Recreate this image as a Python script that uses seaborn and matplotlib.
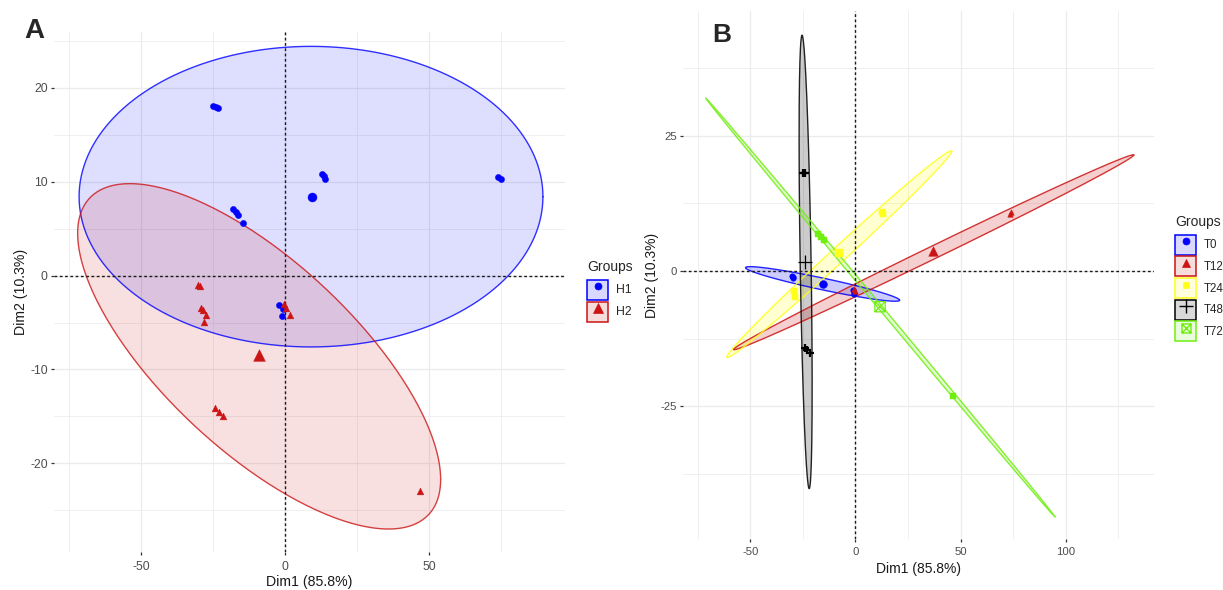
import numpy as np
import pandas as pd
import matplotlib
matplotlib.use("Agg")
import matplotlib.pyplot as plt
from matplotlib.path import Path
from matplotlib.markers import MarkerStyle
from matplotlib.patches import Rectangle
from matplotlib.lines import Line2D
from matplotlib.colors import to_rgba
import seaborn as sns

# ---------------- Panel A: individuals coloured by H1 / H2 ----------------
h1_dim1 = [-25.0, -24.1, -23.3, -18.0, -17.2, -16.4, -14.7, 12.8, 13.4, 13.9,
           74.0, 75.0, -2.0, -0.7, -0.9]
h1_dim2 = [18.0, 17.9, 17.8, 7.1, 6.8, 6.4, 5.6, 10.8, 10.6, 10.3,
           10.5, 10.3, -3.1, -3.6, -4.3]
h2_dim1 = [-30.3, -29.5, -29.3, -28.4, -27.3, -28.0, -24.3, -23.0, -21.6,
           46.8, -0.5, 0.4, 1.7]
h2_dim2 = [-1.0, -1.1, -3.5, -3.7, -4.2, -4.9, -14.1, -14.5, -14.9,
           -22.9, -3.0, -3.5, -4.2]

a_groups = ["H1", "H2"]
a_mean_dim1 = [9.3, -9.0]
a_mean_dim2 = [8.4, -8.5]
# confidence ellipses: centre, one half-axis vector and its conjugate half-axis
a_ell_cx = [9.0, -9.0]
a_ell_cy = [8.4, -8.6]
a_ell_ux = [80.5, 63.0]
a_ell_uy = [0.0, -13.1]
a_ell_vx = [0.0, 0.0]
a_ell_vy = [16.0, 12.9]

# ---------------- Panel B: individuals coloured by time point ----------------
t0_dim1 = [-30.2, -29.9, -29.6, -1.0, -0.8, -0.6]
t0_dim2 = [-1.0, -1.1, -1.3, -3.5, -4.0, -4.3]
t12_dim1 = [73.5, 74.2, -0.8, -0.3]
t12_dim2 = [10.5, 10.8, -3.3, -3.7]
t24_dim1 = [12.6, 13.2, -29.2, -28.8]
t24_dim2 = [10.8, 10.5, -3.7, -4.9]
t48_dim1 = [-24.8, -24.0, -23.9, -23.2, -21.6]
t48_dim2 = [18.0, 18.1, -14.3, -14.6, -15.1]
t72_dim1 = [-17.6, -16.3, -15.0, 46.6]
t72_dim2 = [6.8, 6.3, 5.7, -23.0]

b_groups = ["T0", "T12", "T24", "T48", "T72"]
b_mean_dim1 = [-15.4, 37.0, -7.8, -23.9, 11.7]
b_mean_dim2 = [-2.4, 3.6, 3.3, 1.6, -6.6]
b_ell_cx = [-15.65, 37.2, -7.7, -23.7, 11.85]
b_ell_cy = [-2.4, 3.45, 3.1, 1.65, -6.75]
b_ell_ux = [36.65, 95.2, 53.5, -1.7, 83.05]
b_ell_uy = [-3.0, 17.95, 19.0, 41.85, -38.65]
b_ell_vx = [0.0, 0.0, 0.0, 2.6, 0.0]
b_ell_vy = [1.1, 1.3, 1.9, 0.0, 0.6]

x_label = "Dim1 (85.8%)"
y_label = "Dim2 (10.3%)"
legend_title = "Groups"

# ---------------- styling ----------------
sns.set_theme(style="white")
plt.rcParams["font.family"] = ["Liberation Sans", "DejaVu Sans"]

BLUE = "#0000FF"
RED = "#CC1414"
YELLOW = "#FFFF1A"
BLACK = "#000000"
GREEN = "#70EE10"

box_x = Path(
    [(-1, -1), (1, -1), (1, 1), (-1, 1), (-1, -1),
     (-1, -1), (1, 1), (-1, 1), (1, -1)],
    [Path.MOVETO, Path.LINETO, Path.LINETO, Path.LINETO, Path.CLOSEPOLY,
     Path.MOVETO, Path.LINETO, Path.MOVETO, Path.LINETO])
BOX_X = MarkerStyle(box_x, fillstyle="none")


def frame(names, xs_list, ys_list):
    parts = []
    for n, xs, ys in zip(names, xs_list, ys_list):
        parts.append(pd.DataFrame({"Dim1": xs, "Dim2": ys, "Groups": n}))
    return pd.concat(parts, ignore_index=True)


df_a = frame(a_groups, [h1_dim1, h2_dim1], [h1_dim2, h2_dim2])
df_b = frame(b_groups,
             [t0_dim1, t12_dim1, t24_dim1, t48_dim1, t72_dim1],
             [t0_dim2, t12_dim2, t24_dim2, t48_dim2, t72_dim2])
means_a = pd.DataFrame({"Dim1": a_mean_dim1, "Dim2": a_mean_dim2, "Groups": a_groups})
means_b = pd.DataFrame({"Dim1": b_mean_dim1, "Dim2": b_mean_dim2, "Groups": b_groups})


def ellipse(cx, cy, ux, uy, vx, vy, n=361):
    t = np.linspace(0, 2 * np.pi, n)
    return (cx + ux * np.cos(t) + vx * np.sin(t),
            cy + uy * np.cos(t) + vy * np.sin(t))


def style_axes(ax, xlim, ylim, xmaj, xmin, ymaj, ymin, xpad, ypad, tick_fs):
    ax.set_xlim(xlim)
    ax.set_ylim(ylim)
    ax.set_xticks(xmaj)
    ax.set_xticks(xmin, minor=True)
    ax.set_yticks(ymaj)
    ax.set_yticks(ymin, minor=True)
    ax.set_xticklabels([f"{v:g}" for v in xmaj])
    ax.set_yticklabels([f"{v:g}" for v in ymaj])
    ax.grid(True, which="major", color="#EBEBEB", lw=0.9)
    ax.grid(True, which="minor", color="#EFEFEF", lw=0.7)
    ax.set_axisbelow(True)
    for s in ax.spines.values():
        s.set_visible(False)
    ax.tick_params(which="major", direction="out", length=2.2, width=0.9,
                   color="#333333", labelsize=tick_fs, labelcolor="#4D4D4D",
                   bottom=True, left=True)
    ax.tick_params(axis="x", pad=xpad)
    ax.tick_params(axis="y", pad=ypad)
    ax.tick_params(which="minor", length=0, bottom=False, left=False)
    ax.axhline(0, color="#1A1A1A", lw=1.0, ls=(0, (2.0, 1.8)), zorder=2.6)
    ax.axvline(0, color="#1A1A1A", lw=1.0, ls=(0, (2.0, 1.8)), zorder=2.6)


def is_filled(mk):
    return (mk if isinstance(mk, MarkerStyle) else MarkerStyle(mk)).is_filled()


def draw_points(ax, df, groups, colors, markers, sizes, line_widths):
    for g in groups:
        sub = df[df["Groups"] == g]
        mk = markers[g]
        kws = dict(x=sub["Dim1"], y=sub["Dim2"], ax=ax, color=colors[g],
                   marker=mk, s=sizes[g], legend=False, zorder=4)
        if is_filled(mk):
            kws.update(edgecolor=colors[g], linewidth=0.3)
        else:
            kws.update(linewidth=line_widths[g])
        sns.scatterplot(**kws)


def add_legend(ax, groups, colors, markers, msizes, anchor, fill_alpha,
               fs, key_px, row_px):
    fs_px = fs * 100 / 72
    # legend handle box height = fs * (0.65 * handleheight + 0.245)
    hh = (key_px / fs_px - 0.245) / 0.65
    handles = []
    for g in groups:
        box = Rectangle((0, 0), 1, 1, facecolor=to_rgba(colors[g], fill_alpha),
                        edgecolor=colors[g], lw=1.1)
        mk = markers[g]
        line_art = not is_filled(mk)
        mark = Line2D([], [], ls="none", marker=mk, color=colors[g],
                      markersize=msizes[g],
                      fillstyle="none" if mk is BOX_X else "full",
                      markeredgewidth=1.0 if line_art else 0.5)
        handles.append((box, mark))
    leg = ax.legend(handles, groups, title=legend_title, loc="upper left",
                    bbox_to_anchor=anchor, bbox_transform=ax.figure.transFigure,
                    frameon=False, fontsize=fs, title_fontsize=10,
                    handlelength=21 / fs_px, handleheight=hh,
                    labelspacing=(row_px - key_px) / fs_px,
                    handletextpad=8 / fs_px, borderpad=0, borderaxespad=0,
                    alignment="left")
    leg._legend_box.sep = 4
    return leg


fig = plt.figure(figsize=(12.23, 5.90), dpi=100)
ax_a = fig.add_axes([0.0444, 0.0649, 0.4172, 0.8804])
ax_b = fig.add_axes([0.5585, 0.0864, 0.3851, 0.8950])

# ---------------- Panel A ----------------
colors_a = {"H1": BLUE, "H2": RED}
markers_a = {"H1": "o", "H2": "^"}
style_axes(ax_a, (-80.1, 97.0), (-29.4, 25.9),
           [-50, 0, 50], [-75, -25, 25, 75],
           [-20, -10, 0, 10, 20], [-25, -15, -5, 5, 15, 25], 4.2, 2.5, 8.8)

for i, g in enumerate(a_groups):
    ex, ey = ellipse(a_ell_cx[i], a_ell_cy[i], a_ell_ux[i], a_ell_uy[i],
                     a_ell_vx[i], a_ell_vy[i])
    ax_a.fill(ex, ey, color=colors_a[g], alpha=0.13, lw=0, zorder=1.5)
    ax_a.plot(ex, ey, color=colors_a[g], alpha=0.8, lw=1.0, zorder=2)

draw_points(ax_a, df_a, a_groups, colors_a, markers_a,
            {"H1": 20, "H2": 24}, {"H1": 1, "H2": 1})
draw_points(ax_a, means_a, a_groups, colors_a, markers_a,
            {"H1": 42, "H2": 72}, {"H1": 1, "H2": 1})

ax_a.set_xlabel(x_label, fontsize=10.2, color="#1A1A1A")
ax_a.set_ylabel(y_label, fontsize=10.2, color="#1A1A1A")
ax_a.xaxis.set_label_coords(0.5, -0.0574)
ax_a.yaxis.set_label_coords(-0.0653, 0.5)
ax_a.xaxis.label.set_va("center")
ax_a.yaxis.label.set_va("center")

add_legend(ax_a, a_groups, colors_a, markers_a, {"H1": 5.0, "H2": 7.0},
           (587 / 1223, 1 - 260 / 590), 0.15, 8.8, 20, 22)

# ---------------- Panel B ----------------
colors_b = {"T0": BLUE, "T12": RED, "T24": YELLOW, "T48": BLACK, "T72": GREEN}
markers_b = {"T0": "o", "T12": "^", "T24": "s", "T48": "+", "T72": BOX_X}
style_axes(ax_b, (-82.0, 142.0), (-49.5, 48.0),
           [-50, 0, 50, 100], [-75, -25, 25, 75, 125],
           [-25, 0, 25], [-37.5, -12.5, 12.5, 37.5], 3.5, 2.5, 8.2)

for i, g in enumerate(b_groups):
    ex, ey = ellipse(b_ell_cx[i], b_ell_cy[i], b_ell_ux[i], b_ell_uy[i],
                     b_ell_vx[i], b_ell_vy[i])
    ax_b.fill(ex, ey, color=colors_b[g], alpha=0.2, lw=0, zorder=1.5)
    ax_b.plot(ex, ey, color=colors_b[g], alpha=0.85, lw=1.0, zorder=2)

small_markers_b = dict(markers_b)
small_markers_b["T72"] = "s"
draw_points(ax_b, df_b, b_groups, colors_b, small_markers_b,
            {"T0": 16, "T12": 16, "T24": 14, "T48": 30, "T72": 14},
            {"T0": 1, "T12": 1, "T24": 1, "T48": 1.6, "T72": 1})
draw_points(ax_b, means_b, b_groups, colors_b, markers_b,
            {"T0": 32, "T12": 48, "T24": 32, "T48": 110, "T72": 55},
            {"T0": 1, "T12": 1, "T24": 1, "T48": 0.9, "T72": 0.9})

ax_b.set_xlabel(x_label, fontsize=10, color="#1A1A1A")
ax_b.set_ylabel(y_label, fontsize=10, color="#1A1A1A")
ax_b.xaxis.set_label_coords(0.5, -0.0559)
ax_b.yaxis.set_label_coords(-0.0658, 0.5)
ax_b.xaxis.label.set_va("center")
ax_b.yaxis.label.set_va("center")

add_legend(ax_b, b_groups, colors_b, markers_b,
           {"T0": 5.0, "T12": 6.0, "T24": 5.0, "T48": 10.0, "T72": 6.5},
           (1175 / 1223, 1 - 215 / 590), 0.15, 8.3, 20, 21.7)

# panel letters
fig.text(0.0278, 0.9475, "A", fontsize=20, fontweight="bold", ha="center", va="center")
fig.text(0.5900, 0.9407, "B", fontsize=19, fontweight="bold", ha="center", va="center")

fig.savefig("out.png", dpi=100)
